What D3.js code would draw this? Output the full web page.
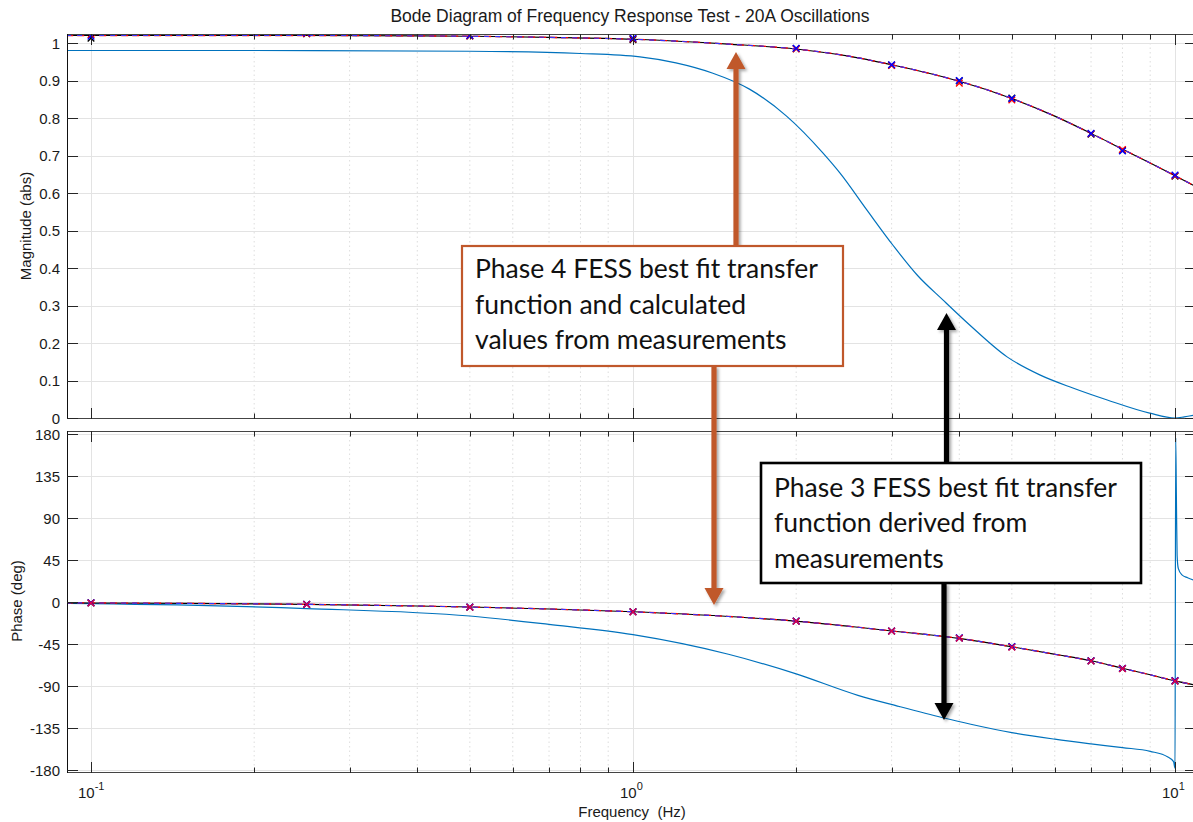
<!DOCTYPE html>
<html>
<head>
<meta charset="utf-8">
<script src="https://cdn.jsdelivr.net/npm/d3@7"></script>
<style>
  html, body { margin: 0; padding: 0; background: #fff; }
  svg { display: block; font-family: "Liberation Sans", Arial, sans-serif; }
</style>
</head>
<body>
<div id="chart"></div>
<script>
// measurement frequencies (Hz)
const measFreq = [0.1, 0.25, 0.5, 1, 2, 3, 4, 5, 7, 8, 10];
// calculated values from measurements (three runs)
const magRed   = [1.022, 1.025, 1.019, 1.011, 0.984, 0.940, 0.893, 0.848, 0.758, 0.716, 0.646];
const magBlue  = [1.018, 1.027, 1.020, 1.013, 0.986, 0.942, 0.900, 0.852, 0.759, 0.712, 0.648];
const magBlack = [1.013, 1.025, 1.019, 1.009, 0.985, 0.941, 0.899, 0.853, 0.757, 0.714, 0.645];
const phRed    = [-1.0, -2.6, -5.6, -10.6, -20.6, -31.2, -38.8, -48.4, -63.2, -71.4, -84.8];
const phBlue   = [-0.8, -2.4, -5.4, -10.4, -20.4, -31.0, -38.4, -47.8, -63.0, -71.0, -84.2];
const phBlack  = [-0.9, -2.5, -5.5, -10.5, -20.5, -31.1, -38.6, -48.0, -63.1, -71.2, -84.5];

// Phase 4 best fit transfer function
const fitFreq  = [0.09, 0.1, 0.15, 0.25, 0.4, 0.5, 0.7, 1, 1.5, 2, 2.5, 3, 3.5, 4, 5, 6, 7, 8, 9, 10, 10.9];
const fitMag   = [1.02, 1.02, 1.02, 1.02, 1.019, 1.018, 1.015, 1.01, 0.997, 0.984, 0.965, 0.942, 0.92, 0.898, 0.852, 0.805, 0.759, 0.717, 0.68, 0.646, 0.618];
const fitPhase = [-0.9, -1, -1.5, -2.5, -4.3, -5.4, -7.5, -10.5, -15.5, -20.5, -26, -31, -35, -39, -48, -56, -63, -71, -78, -84.5, -89];

// Phase 3 best fit transfer function
const p3MagFreq = [0.09, 0.2, 0.5, 0.8, 1.03, 1.2, 1.4, 1.64, 1.92, 2.24, 2.41, 2.7, 3.02, 3.35, 3.73, 4.18, 4.9, 5.63, 6.48, 7.5, 8.98, 10, 10.4, 10.9];
const p3Mag     = [0.98, 0.98, 0.978, 0.972, 0.963, 0.947, 0.92, 0.877, 0.805, 0.707, 0.653, 0.555, 0.46, 0.38, 0.315, 0.248, 0.163, 0.115, 0.08, 0.048, 0.013, 0.0, 0.003, 0.008];
const p3PhFreq  = [0.09, 0.1, 0.25, 0.5, 0.7, 1, 1.5, 2, 2.6, 3.1, 3.73, 4.2, 5, 6, 7, 8, 9, 9.7, 9.94, 10.0, 10.03, 10.06, 10.09, 10.14, 10.3, 10.55, 10.9];
const p3Phase   = [-1.5, -1.8, -7, -15, -24, -35, -56, -77, -100, -112, -124, -131, -140, -147, -152, -156, -160, -166, -171, -178, 176, 110, 50, 36, 29, 26, 23];

const magTicks = [0, 0.1, 0.2, 0.3, 0.4, 0.5, 0.6, 0.7, 0.8, 0.9, 1];
const phTicks  = [-180, -135, -90, -45, 0, 45, 90, 135, 180];
const decades  = [0.1, 1, 10];
const decadeExp = ["-1", "0", "1"];

const W = 1193, H = 822;
const L = 67, R = 1196;
const top1 = 34, bot1 = 418, top2 = 431, bot2 = 772;

const x0 = d3.scaleLog().domain([0.1, 10]).range([91, 1175]);
const x = d3.scaleLog().domain([x0.invert(L), x0.invert(R)]).range([L, R]);
const yM0 = d3.scaleLinear().domain([0, 1]).range([418, 43]);
const yM = d3.scaleLinear().domain([yM0.invert(bot1), yM0.invert(top1)]).range([bot1, top1]);
const yP0 = d3.scaleLinear().domain([0, 180]).range([602, 434]);
const yP = d3.scaleLinear().domain([yP0.invert(bot2), yP0.invert(top2)]).range([bot2, top2]);

const minorFreq = [];
[0.1, 1].forEach(d => { for (let k = 2; k <= 9; k++) minorFreq.push(+(d * k).toFixed(3)); });

const svg = d3.select('#chart').append('svg').attr('width', W).attr('height', H);

const defs = svg.append('defs');
defs.append('clipPath').attr('id', 'clipM').append('rect')
  .attr('x', L).attr('y', top1).attr('width', R - L).attr('height', bot1 - top1);
defs.append('clipPath').attr('id', 'clipP').append('rect')
  .attr('x', L).attr('y', top2).attr('width', R - L).attr('height', bot2 - top2);
const sh = defs.append('filter').attr('id', 'shadow').attr('x', '-50%').attr('y', '-20%').attr('width', '200%').attr('height', '140%');
sh.append('feDropShadow').attr('dx', 2).attr('dy', 2).attr('stdDeviation', 1.5)
  .attr('flood-color', '#000').attr('flood-opacity', 0.35);

function panel(y, y0, y1, ticks, clip) {
  const g = svg.append('g');
  g.append('rect').attr('x', L).attr('y', y0).attr('width', R - L).attr('height', y1 - y0).attr('fill', '#fff');
  // grid
  g.selectAll('.minor').data(minorFreq).enter().append('line')
    .attr('x1', d => x(d)).attr('x2', d => x(d)).attr('y1', y0).attr('y2', y1)
    .attr('stroke', '#d4d4d4').attr('stroke-width', 0.8).attr('stroke-dasharray', '1.5,3');
  g.selectAll('.major').data(decades).enter().append('line')
    .attr('x1', d => Math.round(x(d)) + 0.5).attr('x2', d => Math.round(x(d)) + 0.5).attr('y1', y0).attr('y2', y1)
    .attr('stroke', '#e3e3e3').attr('stroke-width', 1);
  g.selectAll('.hgrid').data(ticks).enter().append('line')
    .attr('x1', L).attr('x2', R).attr('y1', d => Math.round(y(d)) + 0.5).attr('y2', d => Math.round(y(d)) + 0.5)
    .attr('stroke', '#e3e3e3').attr('stroke-width', 1);
  return g.append('g').attr('clip-path', `url(#${clip})`);
}

function frame(y, y0, y1, ticks, labelFmt) {
  const g = svg.append('g').attr('stroke', '#262626').attr('fill', 'none');
  g.append('line').attr('x1', L).attr('x2', R).attr('y1', y0 + 0.5).attr('y2', y0 + 0.5).attr('stroke', '#444');
  g.append('line').attr('x1', L).attr('x2', R).attr('y1', y1 + 0.5).attr('y2', y1 + 0.5).attr('stroke', '#444');
  g.append('line').attr('x1', L + 0.5).attr('x2', L + 0.5).attr('y1', y0).attr('y2', y1 + 1).attr('stroke', '#111');
  // y ticks both sides
  ticks.forEach(t => {
    const yy = Math.round(y(t)) + 0.5;
    g.append('line').attr('x1', L).attr('x2', L + 11).attr('y1', yy).attr('y2', yy);
    g.append('line').attr('x1', R - 11).attr('x2', R).attr('y1', yy).attr('y2', yy);
  });
  // x ticks top and bottom
  decades.forEach(d => {
    const xx = Math.round(x(d)) + 0.5;
    g.append('line').attr('x1', xx).attr('x2', xx).attr('y1', y0).attr('y2', y0 + 11);
    g.append('line').attr('x1', xx).attr('x2', xx).attr('y1', y1 + 1).attr('y2', y1 - 10);
  });
  minorFreq.forEach(d => {
    const xx = Math.round(x(d)) + 0.5;
    g.append('line').attr('x1', xx).attr('x2', xx).attr('y1', y0).attr('y2', y0 + 5.5);
    g.append('line').attr('x1', xx).attr('x2', xx).attr('y1', y1 + 1).attr('y2', y1 - 4.5);
  });
  svg.append('g').selectAll('text').data(ticks).enter().append('text')
    .attr('x', 60).attr('y', d => y(d) + 5.5)
    .attr('text-anchor', 'end').attr('font-size', 15).attr('fill', '#1a1a1a')
    .text(labelFmt);
}

const gM = panel(yM, top1, bot1, magTicks, 'clipM');
const gP = panel(yP, top2, bot2, phTicks, 'clipP');

const lineM = d3.line().x(d => x(d[0])).y(d => yM(d[1])).curve(d3.curveMonotoneX);
const lineP = d3.line().x(d => x(d[0])).y(d => yP(d[1])).curve(d3.curveMonotoneX);

function drawSeries(g, line, freq, vals, color, width, dash) {
  g.append('path').datum(d3.zip(freq, vals))
    .attr('d', line).attr('fill', 'none').attr('stroke', color)
    .attr('stroke-width', width).attr('stroke-dasharray', dash || null);
}
function drawMarks(g, y, vals, color) {
  g.selectAll(null).data(d3.zip(measFreq, vals)).enter().append('path')
    .attr('transform', d => `translate(${x(d[0])},${y(d[1])})`)
    .attr('d', 'M-3.3,-3.3L3.3,3.3M-3.3,3.3L3.3,-3.3')
    .attr('stroke', color).attr('stroke-width', 1.4).attr('fill', 'none');
}

// magnitude panel
drawSeries(gM, lineM, p3MagFreq, p3Mag, '#0072BD', 1.2);
drawSeries(gM, lineM, fitFreq, fitMag, '#000', 1.1);
drawSeries(gM, lineM, fitFreq, fitMag, '#ff0000', 1.3, '7,4');
drawSeries(gM, lineM, fitFreq, fitMag, '#3333ff', 1.1, '5,6');
drawMarks(gM, yM, magBlack, '#000');
drawMarks(gM, yM, magRed, '#ff0000');
drawMarks(gM, yM, magBlue, '#0000ff');

// phase panel
drawSeries(gP, lineP, p3PhFreq, p3Phase, '#0072BD', 1.2);
drawSeries(gP, lineP, fitFreq, fitPhase, '#000', 1.1);
drawSeries(gP, lineP, fitFreq, fitPhase, '#ff0000', 1.3, '7,4');
drawSeries(gP, lineP, fitFreq, fitPhase, '#3333ff', 1.1, '5,6');
drawMarks(gP, yP, phBlack, '#000');
drawMarks(gP, yP, phBlue, '#0000ff');
drawMarks(gP, yP, phRed, '#e0004a');

frame(yM, top1, bot1, magTicks, d => d3.format('~g')(d));
frame(yP, top2, bot2, phTicks, d => d);

// x tick labels (10^n)
const xl = svg.append('g').selectAll('text').data(decades).enter().append('text')
  .attr('x', d => x(d) - 13).attr('y', 798).attr('font-size', 15).attr('fill', '#1a1a1a');
xl.append('tspan').text('10');
xl.append('tspan').attr('dy', -8).attr('font-size', 11).text((d, i) => decadeExp[i]);

// titles
svg.append('text').attr('x', 630).attr('y', 22).attr('text-anchor', 'middle')
  .attr('font-size', 17.5).attr('fill', '#1a1a1a')
  .text('Bode Diagram of Frequency Response Test - 20A Oscillations');
svg.append('text').attr('x', 632).attr('y', 817).attr('text-anchor', 'middle')
  .attr('font-size', 15).attr('fill', '#1a1a1a').attr('xml:space', 'preserve')
  .text('Frequency  (Hz)');
svg.append('text').attr('transform', 'translate(31,226) rotate(-90)').attr('text-anchor', 'middle')
  .attr('font-size', 15).attr('fill', '#1a1a1a').text('Magnitude (abs)');
svg.append('text').attr('transform', 'translate(22,601) rotate(-90)').attr('text-anchor', 'middle')
  .attr('font-size', 15).attr('fill', '#1a1a1a').text('Phase (deg)');

// annotations
const orange = '#C0582B';
function arrow(xc, yFrom, yTip, color) {
  const dir = yTip < yFrom ? -1 : 1;
  const headLen = 17, headW = 9.5, shaft = 2.6;
  const yb = yTip - dir * headLen;
  const p = d3.path();
  p.moveTo(xc - shaft, yFrom);
  p.lineTo(xc - shaft, yb);
  p.lineTo(xc - headW, yb);
  p.lineTo(xc, yTip);
  p.lineTo(xc + headW, yb);
  p.lineTo(xc + shaft, yb);
  p.lineTo(xc + shaft, yFrom);
  p.closePath();
  svg.append('path').attr('d', p.toString()).attr('fill', color).attr('filter', 'url(#shadow)');
}
arrow(736, 246, 52, orange);
arrow(714, 366, 605, orange);
arrow(946.5, 463, 313, '#000');
arrow(944, 583, 720, '#000');

function box(x0b, y0b, x1b, y1b, color, sw, lines, baselines) {
  svg.append('rect').attr('x', x0b).attr('y', y0b).attr('width', x1b - x0b).attr('height', y1b - y0b)
    .attr('fill', '#fff').attr('stroke', color).attr('stroke-width', sw);
  svg.append('g').selectAll('text').data(lines).enter().append('text')
    .attr('x', x0b + 13).attr('y', (d, i) => baselines[i])
    .attr('font-family', 'Lato, "Open Sans", sans-serif').attr('font-size', 26.5).attr('fill', '#111')
    .text(d => d);
}
box(462, 246, 843, 366, orange, 2.2,
  ['Phase 4 FESS best fit transfer', 'function and calculated', 'values from measurements'], [278, 314, 349]);
box(761, 463, 1141, 583, '#000', 2.6,
  ['Phase 3 FESS best fit transfer', 'function derived from', 'measurements'], [497, 532, 568]);
</script>
</body>
</html>
